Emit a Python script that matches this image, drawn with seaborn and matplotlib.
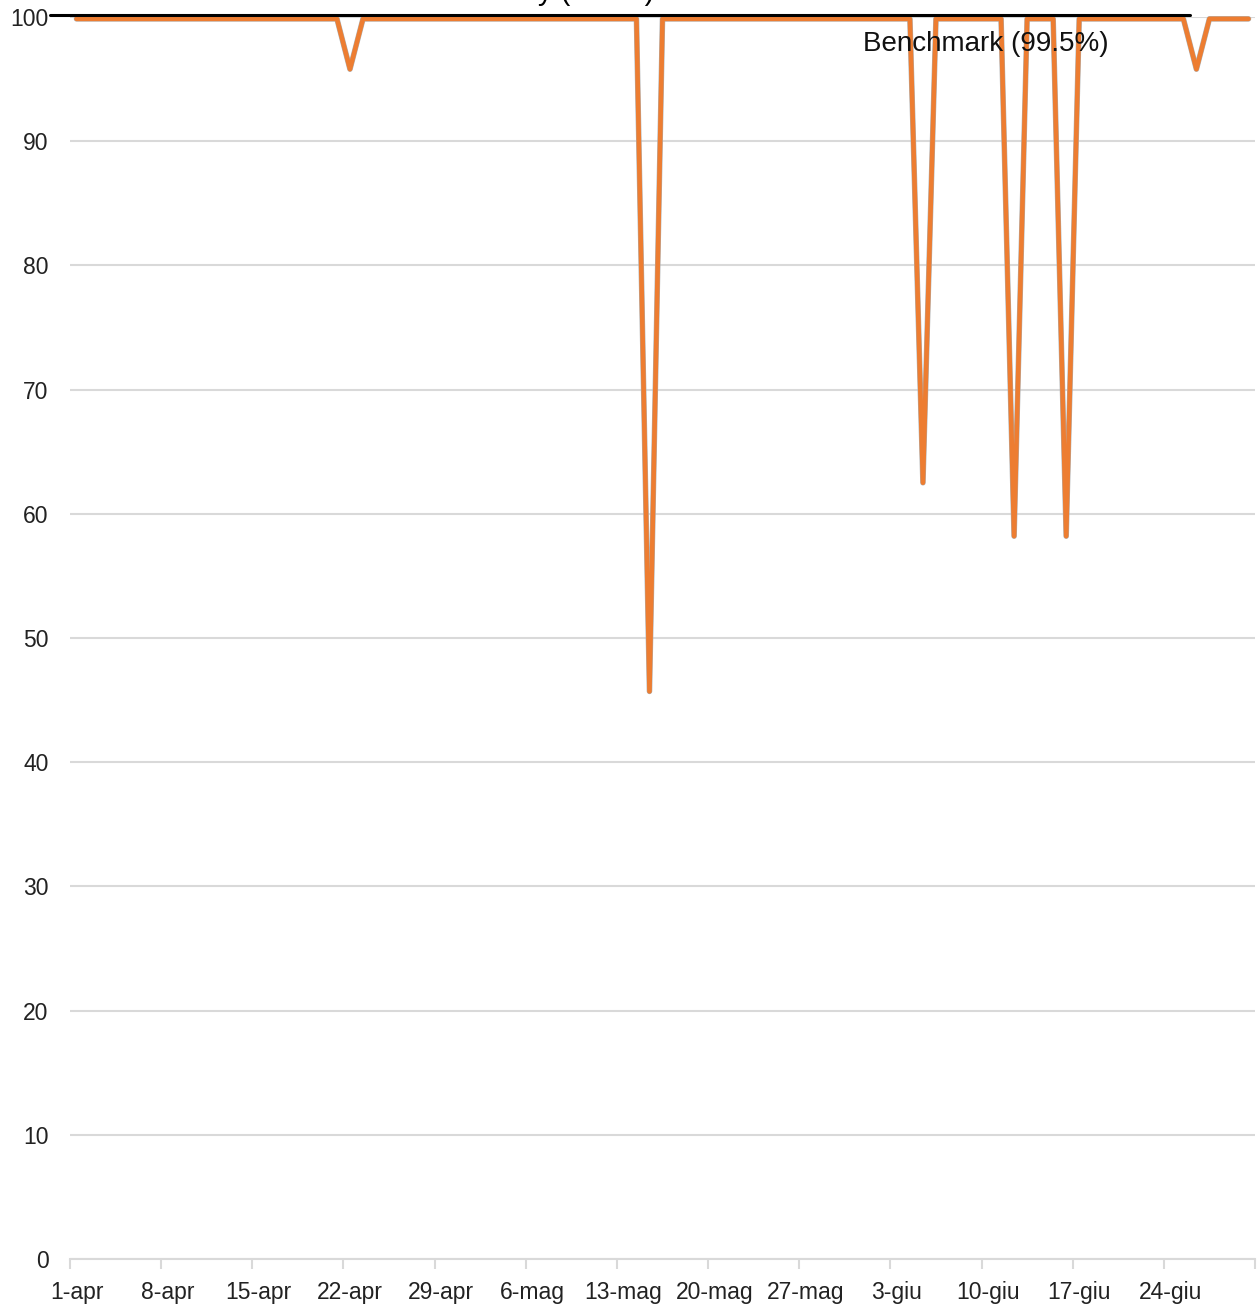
import numpy as np
import pandas as pd
import matplotlib
matplotlib.use("Agg")
import matplotlib.pyplot as plt
import seaborn as sns

# ---- data ----
dates = pd.date_range("2024-04-01", "2024-06-30", freq="D")
month_it = {4: "apr", 5: "mag", 6: "giu"}
day_labels = [f"{d.day}-{month_it[d.month]}" for d in dates]

full_value = 99.85
dip_days = ["2024-04-22", "2024-05-15", "2024-06-05", "2024-06-12", "2024-06-16", "2024-06-26"]
dip_values = [95.8, 45.7, 62.5, 58.2, 58.2, 95.8]

availability = [full_value] * len(dates)
for d, v in zip(dip_days, dip_values):
    availability[dates.get_loc(pd.Timestamp(d))] = v

target_value = 100.2
target_label = "Availability (100%)"
benchmark_label = "Benchmark (99.5%)"
y_ticks = list(range(0, 101, 10))

df = pd.DataFrame({"idx": np.arange(len(dates)), "value": availability})

# ---- plot ----
sns.set_theme(style="white")
plt.rcParams["font.family"] = ["Liberation Sans", "DejaVu Sans"]

fig = plt.figure(figsize=(12.58, 13.12), dpi=100)
ax = fig.add_axes([70 / 1258, 1 - 1259 / 1312, 1185 / 1258, (1259 - 17) / 1312])

ax.set_ylim(0, 100)
ax.set_xlim(-0.5, len(dates) - 0.5)
ax.set_yticks(y_ticks)
ax.yaxis.grid(True, color="#d9d9d9", linewidth=1.5)
ax.set_axisbelow(True)

# gray shadow series + orange series
sns.lineplot(data=df, x="idx", y="value", ax=ax, color="#b0b0b0", linewidth=4.0,
             solid_joinstyle="round", solid_capstyle="round", clip_on=False, legend=False)
sns.lineplot(data=df, x="idx", y="value", ax=ax, color="#ED7D31", linewidth=3.3,
             solid_joinstyle="round", solid_capstyle="round", clip_on=False, legend=False)

# target line
ax.plot([-2.04, 85.5], [target_value, target_value], color="black", linewidth=2.2,
        clip_on=False, zorder=5)
ax.text(35.2, 100.9, target_label, ha="center", va="bottom", fontsize=21, color="black",
        clip_on=False)
ax.text(69.8, 97.8, benchmark_label, ha="center", va="center", fontsize=20, color="#111111")

# axes styling
for s in ["top", "right", "left"]:
    ax.spines[s].set_visible(False)
ax.spines["bottom"].set_color("#d9d9d9")
ax.spines["bottom"].set_linewidth(1.5)

major = np.arange(-0.5, len(dates), 7)
ax.set_xticks(major)
ax.set_xticklabels([""] * len(major))
ax.tick_params(axis="x", which="major", length=7, width=1.5, color="#d9d9d9", bottom=True)
minor = np.arange(0, len(dates), 7)
ax.set_xticks(minor, minor=True)
ax.set_xticklabels([day_labels[i] for i in minor], minor=True)
ax.tick_params(axis="x", which="minor", length=0, labelsize=16.5, labelcolor="#222222", pad=16)
ax.tick_params(axis="y", length=0, labelsize=16.5, labelcolor="#222222", pad=15.5)
ax.set_xlabel("")
ax.set_ylabel("")

fig.savefig("out.png", dpi=100)
